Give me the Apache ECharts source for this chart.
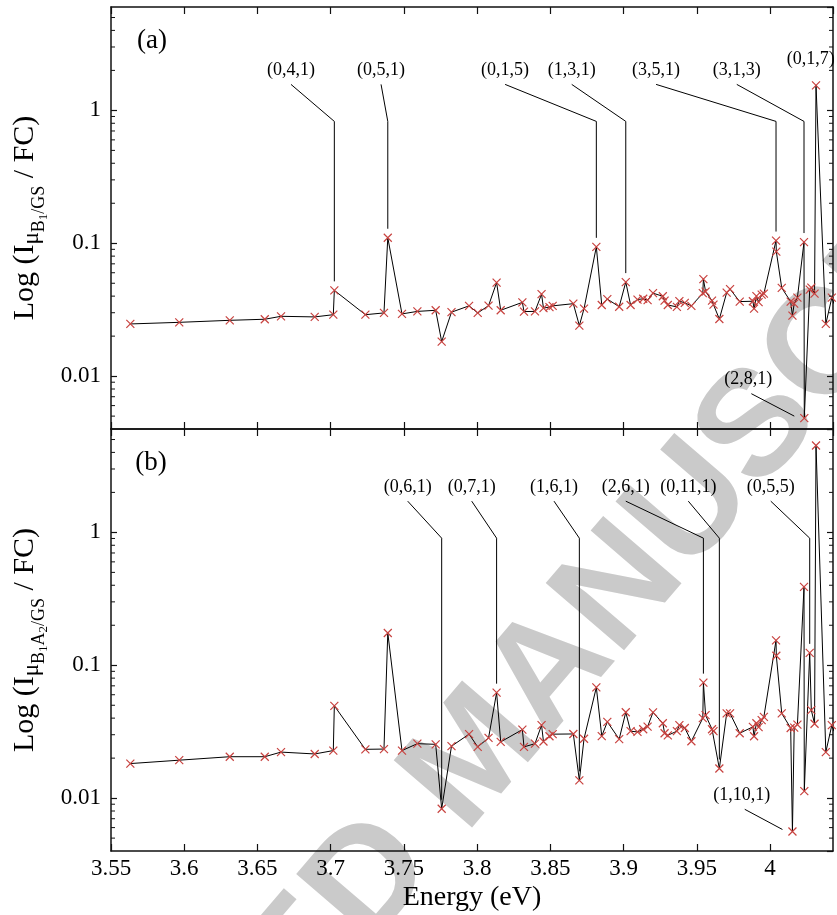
<!DOCTYPE html>
<html>
<head>
<meta charset="utf-8">
<script src="https://cdn.jsdelivr.net/npm/echarts@6/dist/echarts.min.js"></script>
<style>html,body{margin:0;padding:0;background:#fff}#chart{width:837px;height:915px}</style>
</head>
<body>
<div id="chart"></div>
<script>
// ---- data ----
const energies = [
  3.5632, 3.5966, 3.6311, 3.6550, 3.6661, 3.6891, 3.7018, 3.7025, 3.7237, 3.7364,
  3.7390, 3.7487, 3.7592, 3.7717, 3.7758, 3.7825, 3.7945, 3.8004, 3.8078, 3.8133,
  3.8161, 3.8309, 3.8320, 3.8395, 3.8440, 3.8453, 3.8494, 3.8516, 3.8657, 3.8698,
  3.8730, 3.8814, 3.8851, 3.8889, 3.8970, 3.9015, 3.9048, 3.9095, 3.9134, 3.9164,
  3.9201, 3.9268, 3.9280, 3.9302, 3.9364, 3.9381, 3.9418, 3.9463, 3.9541, 3.9545,
  3.9560, 3.9604, 3.9614, 3.9654, 3.9704, 3.9727, 3.9793, 3.9883, 3.9891, 3.9907,
  3.9922, 3.9943, 3.9958, 4.0041, 4.0043, 4.0080, 4.0141, 4.0153, 4.0165, 4.0187,
  4.0232, 4.0234, 4.0271, 4.0282, 4.0304, 4.0314, 4.0381, 4.0422, 4.0437
];
const intensityA = [
  0.0247, 0.0254, 0.0263, 0.0268, 0.0282, 0.0279, 0.0290, 0.0442, 0.0290, 0.0299,
  0.110, 0.0294, 0.0307, 0.0313, 0.0182, 0.0303, 0.0338, 0.0299, 0.0339, 0.0506,
  0.0313, 0.0359, 0.0306, 0.0307, 0.0414, 0.0325, 0.0331, 0.0338, 0.0351, 0.0240,
  0.0322, 0.0940, 0.0343, 0.0380, 0.0333, 0.0510, 0.0343, 0.0377, 0.0382, 0.0373,
  0.0421, 0.0399, 0.0370, 0.0343, 0.0332, 0.0367, 0.0356, 0.0338, 0.0421, 0.0537,
  0.0433, 0.0370, 0.0345, 0.0269, 0.0425, 0.0452, 0.0364, 0.0366, 0.0322, 0.0400,
  0.0361, 0.0411, 0.0418, 0.1048, 0.0866, 0.0461, 0.0364, 0.0285, 0.0351, 0.0390,
  0.1021, 0.00483, 0.0448, 0.0464, 0.0418, 1.543, 0.0247, 0.0390, 0.0351
];
const intensityB = [
  0.0182, 0.0193, 0.0205, 0.0205, 0.0222, 0.0215, 0.0228, 0.0495, 0.0233, 0.0234,
  0.175, 0.0228, 0.0257, 0.0254, 0.00832, 0.0246, 0.0303, 0.0243, 0.0284, 0.0622,
  0.0265, 0.0328, 0.0243, 0.0257, 0.0354, 0.0267, 0.0292, 0.0303, 0.0304, 0.0136,
  0.0280, 0.0681, 0.0293, 0.0375, 0.0278, 0.0443, 0.0319, 0.0315, 0.0330, 0.0345,
  0.0442, 0.0366, 0.0308, 0.0297, 0.0319, 0.0354, 0.0337, 0.0268, 0.0400, 0.0740,
  0.0421, 0.0330, 0.0319, 0.0167, 0.0434, 0.0434, 0.0308, 0.0344, 0.0292, 0.0366,
  0.0342, 0.0386, 0.0409, 0.154, 0.118, 0.0434, 0.0337, 0.00561, 0.0339, 0.0357,
  0.389, 0.0113, 0.124, 0.0459, 0.0363, 4.51, 0.0222, 0.0354, 0.0319
];
const yTickLabels = ['0.01', '0.1', '1'];
const yMinorTicks = [0.005, 0.006, 0.007, 0.008, 0.009, 0.02, 0.03, 0.04, 0.05, 0.06, 0.07, 0.08, 0.09,
  0.2, 0.3, 0.4, 0.5, 0.6, 0.7, 0.8, 0.9, 2, 3, 4, 5];

// annotations: label, label position (energy, value), index of the marked point, leader kind
const annALabels = ['(0,4,1)', '(0,5,1)', '(0,1,5)', '(1,3,1)', '(3,5,1)', '(3,1,3)', '(0,1,7)', '(2,8,1)'];
const annAEnergy = [3.6729, 3.7344, 3.8191, 3.8646, 3.9222, 3.9773, 4.0278, 3.9852];
const annAValue  = [2.0, 2.0, 2.0, 2.0, 2.0, 2.0, 2.42, 0.0094];
const annATarget = [7, 10, 31, 35, 63, 70, 75, 71];
const annAKind   = ['down', 'down', 'down', 'down', 'down', 'down', 'none', 'side'];

const annBLabels = ['(0,6,1)', '(0,7,1)', '(1,6,1)', '(2,6,1)', '(0,11,1)', '(0,5,5)', '(1,10,1)'];
const annBEnergy = [3.7526, 3.7963, 3.8525, 3.9015, 3.9442, 4.0005, 3.9807];
const annBValue  = [2.19, 2.19, 2.19, 2.19, 2.19, 2.19, 0.0105];
const annBTarget = [14, 19, 29, 49, 53, 72, 67];
const annBKind   = ['down', 'down', 'down', 'down', 'down', 'down', 'side'];

// ---- chart ----
const SERIF = '"Liberation Serif", "DejaVu Serif", serif';
const chart = echarts.init(document.getElementById('chart'), null, {renderer: 'canvas'});

const X_MIN = 3.55, X_MAX = 4.043, X_INT = 0.05;
const Y_MIN = 0.004, Y_MAX = 6;
const lineCol = '#111';

function xAxis(gridIndex, position, showLabels, name) {
  return {
    type: 'value', gridIndex, position, min: X_MIN, max: X_MAX, interval: X_INT,
    axisLine: {show: true, onZero: false, lineStyle: {color: lineCol, width: 1.5}},
    axisTick: {show: true, inside: true, length: 7, lineStyle: {color: lineCol, width: 1.2}},
    axisLabel: {show: showLabels, showMaxLabel: false, margin: 6, color: '#000',
      fontFamily: SERIF, fontSize: 23},
    splitLine: {show: false},
    name: name || '', nameLocation: 'middle', nameGap: 33,
    nameTextStyle: {color: '#000', fontFamily: SERIF, fontSize: 28}
  };
}
function yFormatter(v) {
  const l = Math.log10(v);
  for (const t of yTickLabels) { if (Math.abs(Math.log10(+t) - l) < 1e-6) return t; }
  return '';
}
const richName = {
  n:  {fontFamily: SERIF, fontSize: 30, lineHeight: 56, color: '#000', verticalAlign: 'middle'},
  s1: {fontFamily: SERIF, fontSize: 23, lineHeight: 23, color: '#000', verticalAlign: 'middle', padding: [14, 0, 0, 0]},
  s2: {fontFamily: SERIF, fontSize: 18, lineHeight: 18, color: '#000', verticalAlign: 'middle', padding: [27, 0, 0, 0]},
  s3: {fontFamily: SERIF, fontSize: 13, lineHeight: 13, color: '#000', verticalAlign: 'middle', padding: [36, 0, 0, 0]}
};
function yAxis(gridIndex, position, showLabels, name) {
  return {
    type: 'log', logBase: 10, gridIndex, position, min: Y_MIN, max: Y_MAX,
    axisLine: {show: true, lineStyle: {color: lineCol, width: 1.5}},
    axisTick: {show: true, inside: true, length: 6, lineStyle: {color: lineCol, width: 1.2}},
    axisLabel: {show: showLabels, showMinLabel: false, showMaxLabel: false, margin: 10,
      color: '#000', fontFamily: SERIF, fontSize: 23, formatter: yFormatter},
    minorTick: {show: false},
    splitLine: {show: false},
    name: name || '', nameLocation: 'middle', nameRotate: 90, nameGap: 55,
    nameTextStyle: {color: '#000', fontFamily: SERIF, fontSize: 30, rich: richName}
  };
}

function lineSeries(xi, yi, vals) {
  return {
    type: 'line', xAxisIndex: xi, yAxisIndex: yi,
    data: energies.map((e, i) => [e, vals[i]]),
    symbol: 'path://M0,0L10,10M0,10L10,0', symbolSize: 8, showAllSymbol: true,
    itemStyle: {color: 'none', borderColor: '#c8423f', borderWidth: 1.2},
    lineStyle: {color: '#000', width: 1},
    emphasis: {disabled: true}, silent: true, z: 3
  };
}
function minorTickSeries(xi, yi) {
  return {
    type: 'custom', xAxisIndex: xi, yAxisIndex: yi, silent: true, z: 4,
    data: yMinorTicks.map(v => [3.8, v]),
    renderItem: function (params, api) {
      const cs = params.coordSys;
      const y = api.coord([3.8, api.value(1)])[1];
      const st = {stroke: lineCol, lineWidth: 1};
      return {type: 'group', children: [
        {type: 'line', shape: {x1: cs.x, y1: y, x2: cs.x + 4, y2: y}, style: st},
        {type: 'line', shape: {x1: cs.x + cs.width - 4, y1: y, x2: cs.x + cs.width, y2: y}, style: st}
      ]};
    }
  };
}
function annotSeries(xi, yi, labels, ae, av, tgt, kind, vals) {
  return {
    type: 'custom', xAxisIndex: xi, yAxisIndex: yi, silent: true, z: 5, clip: false,
    data: labels.map((l, i) => [ae[i], av[i], energies[tgt[i]], vals[tgt[i]]]),
    renderItem: function (params, api) {
      const i = params.dataIndex;
      const t = api.coord([api.value(0), api.value(1)]);
      const p = api.coord([api.value(2), api.value(3)]);
      const children = [{
        type: 'text', x: t[0], y: t[1],
        style: {text: labels[i], fill: '#000', font: '18px ' + SERIF,
          align: 'center', verticalAlign: 'middle', textAlign: 'center', textVerticalAlign: 'middle'}
      }];
      let pts = null;
      if (kind[i] === 'down') pts = [[t[0], t[1] + 14], [p[0], t[1] + 51], [p[0], p[1] - 9]];
      else if (kind[i] === 'side') pts = [[t[0] + 3, t[1] + 14], [p[0] - 10, p[1] - 2]];
      if (pts) children.push({type: 'polyline', shape: {points: pts}, style: {stroke: '#000', lineWidth: 1, fill: null}});
      return {type: 'group', children};
    }
  };
}

const option = {
  animation: false,
  backgroundColor: '#fff',
  grid: [
    {left: 111, top: 7, width: 722, height: 422, containLabel: false, outerBoundsMode: 'none'},
    {left: 111, top: 429, width: 722, height: 422, containLabel: false, outerBoundsMode: 'none'}
  ],
  xAxis: [
    xAxis(0, 'bottom', false),
    xAxis(0, 'top', false),
    xAxis(1, 'bottom', true, 'Energy (eV)'),
    xAxis(1, 'top', false)
  ],
  yAxis: [
    yAxis(0, 'left', true, '{n|Log (I}{s1|μ}{s2|B}{s3|1}{s2|/GS}{n| / FC)}'),
    yAxis(0, 'right', false),
    yAxis(1, 'left', true, '{n|Log (I}{s1|μ}{s2|B}{s3|1}{s2|A}{s3|2}{s2|/GS}{n| / FC)}'),
    yAxis(1, 'right', false)
  ],
  graphic: [
    {type: 'text', z: -10, x: -130, y: 1466, rotation: 0.862, silent: true,
      style: {text: 'ACCEPTED MANUSCRIPT', fill: '#cacaca', font: 'bold 150px "Liberation Sans", Arial, sans-serif',
        align: 'left', verticalAlign: 'middle', textAlign: 'left', textVerticalAlign: 'middle'}},
    {type: 'text', x: 152, y: 41, z: 10,
      style: {text: '(a)', fill: '#000', font: '27px ' + SERIF, align: 'center', verticalAlign: 'middle',
        textAlign: 'center', textVerticalAlign: 'middle'}},
    {type: 'text', x: 151, y: 463, z: 10,
      style: {text: '(b)', fill: '#000', font: '27px ' + SERIF, align: 'center', verticalAlign: 'middle',
        textAlign: 'center', textVerticalAlign: 'middle'}}
  ],
  series: [
    lineSeries(0, 0, intensityA),
    lineSeries(2, 2, intensityB),
    minorTickSeries(0, 0),
    minorTickSeries(2, 2),
    annotSeries(0, 0, annALabels, annAEnergy, annAValue, annATarget, annAKind, intensityA),
    annotSeries(2, 2, annBLabels, annBEnergy, annBValue, annBTarget, annBKind, intensityB)
  ]
};
chart.setOption(option);
</script>
</body>
</html>
